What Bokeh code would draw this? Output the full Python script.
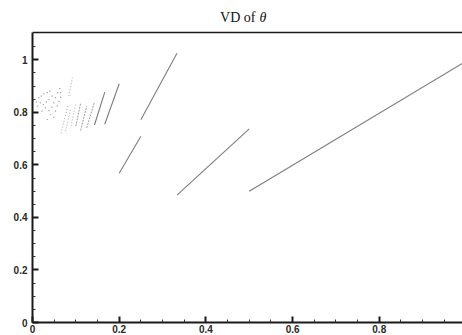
from bokeh.plotting import figure
from bokeh.models import (FixedTicker, LinearAxis, Label, Range1d, Span)
from bokeh.embed import file_html
from bokeh.resources import INLINE

# ---- data ----
title_main = "VD of"
title_sym = "θ"
x_ticks = [0, 0.2, 0.4, 0.6, 0.8, 1.0]
y_ticks = [0, 0.2, 0.4, 0.6, 0.8, 1.0]
minor_ticks = [0.05, 0.1, 0.15, 0.25, 0.3, 0.35, 0.45, 0.5, 0.55, 0.65, 0.7, 0.75,
               0.85, 0.9, 0.95, 1.05]

# solid segments
solid_x0 = [0.5, 0.3333, 0.25, 0.2, 0.1667, 0.1429]
solid_y0 = [0.5, 0.485, 0.772, 0.568, 0.755, 0.752]
solid_x1 = [1.0, 0.5, 0.3333, 0.25, 0.2, 0.1667]
solid_y1 = [0.995, 0.737, 1.025, 0.709, 0.909, 0.877]

# faint (sparsely sampled) segments
faint_x0 = [0.125, 0.1111, 0.1]
faint_y0 = [0.741, 0.731, 0.747]
faint_x1 = [0.1429, 0.125, 0.1111]
faint_y1 = [0.839, 0.824, 0.836]

# dotted segments
dot_x0 = [0.0889, 0.076, 0.066, 0.084]
dot_y0 = [0.747, 0.728, 0.72, 0.862]
dot_x1 = [0.099, 0.0877, 0.082, 0.092]
dot_y1 = [0.830, 0.811, 0.83, 0.932]

# scattered points
pts_x = [0.0046, 0.0092, 0.0146, 0.020, 0.026, 0.034, 0.040, 0.018, 0.025, 0.032,
         0.038, 0.045, 0.030, 0.038, 0.045, 0.049, 0.042, 0.049, 0.053, 0.057,
         0.053, 0.058, 0.063, 0.065, 0.065, 0.034, 0.022, 0.012, 0.0015, 0.061]
pts_y = [0.849, 0.840, 0.856, 0.862, 0.871, 0.875, 0.881, 0.836, 0.830, 0.840,
         0.849, 0.862, 0.817, 0.807, 0.820, 0.836, 0.792, 0.782, 0.805, 0.824,
         0.856, 0.875, 0.891, 0.875, 0.858, 0.773, 0.805, 0.824, 0.843, 0.842]

X_END = 0.992      # right edge of the visible frame
Y_TOP = 1.104      # top border of the plot box
Y_END = 1.226      # extra room above the box for the title

p = figure(width=462, height=335, output_backend="svg", toolbar_location=None,
           x_range=Range1d(0, X_END), y_range=Range1d(0, Y_END),
           min_border_left=32, min_border_right=0, min_border_top=0,
           min_border_bottom=10, x_axis_type=None, y_axis_type=None)
p.outline_line_color = None
p.background_fill_color = "white"
p.border_fill_color = "white"
p.xgrid.visible = False
p.ygrid.visible = False

def style_axis(ax, ticks):
    ax.ticker = FixedTicker(ticks=ticks, minor_ticks=minor_ticks)
    ax.axis_line_color = "#1a1a1a"
    ax.axis_line_width = 2
    ax.major_tick_in = 6
    ax.major_tick_out = 0
    ax.minor_tick_in = 3
    ax.minor_tick_out = 0
    ax.major_tick_line_width = 2
    ax.major_tick_line_color = "#1a1a1a"
    ax.minor_tick_line_width = 1
    ax.minor_tick_line_color = "#333333"
    ax.major_label_text_font = "Liberation Sans"
    ax.major_label_text_font_size = "10px"
    ax.major_label_text_font_style = "bold"
    ax.major_label_text_color = "#2a2a2a"

xa = LinearAxis()
style_axis(xa, x_ticks)
xa.major_label_standoff = 2
xa.major_label_overrides = {0: "0", 1.0: "1"}
p.add_layout(xa, "below")

ya = LinearAxis()
style_axis(ya, y_ticks)
ya.major_label_standoff = 5
ya.bounds = (0, Y_TOP)
ya.major_label_overrides = {0: "0", 1.0: "1"}
p.add_layout(ya, "left")

p.add_layout(Span(location=Y_TOP, dimension="width", line_color="#1a1a1a",
                  line_width=1.5))

line_col = "#7d7d7d"
p.segment(x0=solid_x0, y0=solid_y0, x1=solid_x1, y1=solid_y1,
          line_color=line_col, line_width=1.1)
p.segment(x0=faint_x0, y0=faint_y0, x1=faint_x1, y1=faint_y1,
          line_color="#a0a0a0", line_width=1, line_dash="2 1")
p.segment(x0=dot_x0, y0=dot_y0, x1=dot_x1, y1=dot_y1,
          line_color="#a8a8a8", line_width=1, line_dash="1 2")
p.scatter(x=pts_x, y=pts_y, marker="square", size=1.2,
          fill_color="#a0a0a0", line_color=None)

t1 = Label(x=223, y=305, x_units="screen", y_units="screen", text=title_main,
           text_font="Liberation Serif", text_font_size="14px",
           text_align="right", text_baseline="alphabetic", text_color="#111111")
t2 = Label(x=227, y=305, x_units="screen", y_units="screen", text=title_sym,
           text_font="Liberation Serif", text_font_size="14px",
           text_font_style="italic", text_align="left",
           text_baseline="alphabetic", text_color="#111111")
p.add_layout(t1)
p.add_layout(t2)

open("out.html", "w").write(file_html(p, INLINE))
